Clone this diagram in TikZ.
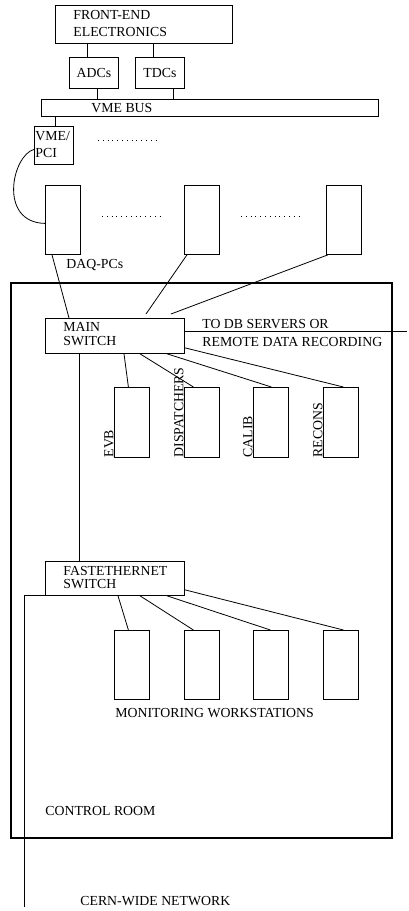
\documentclass[tikz,border=0pt]{standalone}
\usepackage{fontspec}
\setmainfont{Liberation Serif}
\tikzset{
  box/.style={draw, inner sep=0pt, anchor=north west},
  lbl/.style={anchor=base west, inner sep=0pt},
  dotrow/.style={dash pattern=on 0.8pt off 4pt}
}
\begin{document}
\begin{tikzpicture}[x=1pt, y=-1pt, line width=0.8pt, font=\fontsize{13.8pt}{15pt}\selectfont]
  \useasboundingbox (0,0) rectangle (408,911);
  % crate side
  \node[box, minimum width=177pt, minimum height=38pt] (fee) at (55,5) {};
  \node[lbl] (fee-a) at (73,19) {FRONT-END};
  \node[lbl] (fee-b) at (73,36) {ELECTRONICS};
  \node[box, minimum width=49pt, minimum height=31pt, anchor=north west] (adc) at (69,57) {ADCs};
  \node[box, minimum width=49pt, minimum height=31pt, anchor=north west] (tdc) at (135,57) {TDCs};
  \node[box, minimum width=337pt, minimum height=17pt] (bus) at (41,99) {};
  \node[lbl] (bus-l) at (91,112) {VME BUS};
  \node[box, minimum width=39pt, minimum height=38pt] (vp) at (34,126) {};
  \node[lbl, anchor=base west] (vp-a) at (35,140) {VME/};
  \node[lbl] (vp-b) at (35,157) {PCI};
  \draw ([xshift=32pt]fee.south west) -- ([xshift=18pt]adc.north west);
  \draw ([xshift=98pt]fee.south west) -- ([xshift=18pt]tdc.north west);
  \draw ([xshift=28pt]adc.south west) -- ([xshift=56pt]bus.north west);
  \draw ([xshift=38pt]tdc.south west) -- ([xshift=132pt]bus.north west);
  \draw ([xshift=14pt]bus.south west) -- ([xshift=21pt]vp.north west);
  \draw[dotrow] (98,140) -- (160,140);

  % DAQ PCs
  \foreach \n/\x in {pc1/45, pc2/184, pc3/326}
    \node[box, minimum width=35pt, minimum height=69pt] (\n) at (\x,185) {};
  \draw[dotrow] (102,216) -- (163,216);
  \draw[dotrow] (241,216) -- (302,216);
  \node[lbl] (daq) at (66,268) {DAQ-PCs};
  \draw ([yshift=-4pt]vp.west) .. controls +(-22,6) and +(-47,-1) .. ([yshift=-3.5pt]pc1.west);

  % control room
  \draw[line width=2pt] (11,283) rectangle (392,838);
  \node[lbl] (room) at (45,815) {CONTROL ROOM};

  \node[box, minimum width=139pt, minimum height=35pt] (ms) at (45,318) {};
  \node[lbl] (ms-a) at (63,331) {MAIN};
  \node[lbl] (ms-b) at (63,345) {SWITCH};
  \draw ([xshift=7pt]pc1.south west) -- ([xshift=24pt]ms.north west);
  \draw ([xshift=3pt]pc2.south west) -- ([xshift=101pt,yshift=4pt]ms.north west);
  \draw ([xshift=2pt]pc3.south west) -- ([xshift=126pt,yshift=4pt]ms.north west);
  \coordinate (db) at (407,331);
  \draw (db -| ms.east) -- (db);
  \node[lbl] (db-a) at (202,328) {TO DB SERVERS OR};
  \node[lbl] (db-b) at (202,346) {REMOTE DATA RECORDING};

  \foreach \n/\x/\l in {evb/114/EVB, disp/184/DISPATCHERS, calib/253/CALIB, recons/323/RECONS} {
    \node[box, minimum width=35pt, minimum height=70pt] (\n) at (\x,387) {};
    \node[rotate=90, anchor=south west, inner sep=0pt] (\n-l) at (\n.south west) {\l};
  }
  \foreach \n/\s/\e in {evb/79/-3.5, disp/95/-8.5, calib/122/0.5}
    \draw ([xshift=\s pt]ms.south west) -- ([xshift=\e pt]\n.north);
  \draw ([yshift=6pt]ms.south east) -- ([xshift=2.5pt]recons.north);

  % monitoring
  \node[box, minimum width=139pt, minimum height=34pt] (fs) at (45,561) {};
  \node[lbl] (fs-a) at (63,575) {FASTETHERNET};
  \node[lbl] (fs-b) at (63,588) {SWITCH};
  \draw ([xshift=34pt]ms.south west) -- ([xshift=34pt]fs.north west);
  \foreach \n/\x in {ws1/114, ws2/184, ws3/253, ws4/323}
    \node[box, minimum width=35pt, minimum height=69pt] (\n) at (\x,630) {};
  \foreach \n/\s/\e in {ws1/73/-3.5, ws2/95/-8.5, ws3/122/-0.5}
    \draw ([xshift=\s pt]fs.south west) -- ([xshift=\e pt]\n.north);
  \draw ([yshift=6pt]fs.south east) -- ([xshift=2.5pt]ws4.north);
  \node[lbl] (mon) at (115,717) {MONITORING WORKSTATIONS};

  % outside
  \coordinate (cern) at (24,907);
  \draw (fs.south west) -| (cern);
  \node[lbl] (cern-l) at (80,905) {CERN-WIDE NETWORK};
\end{tikzpicture}
\end{document}
